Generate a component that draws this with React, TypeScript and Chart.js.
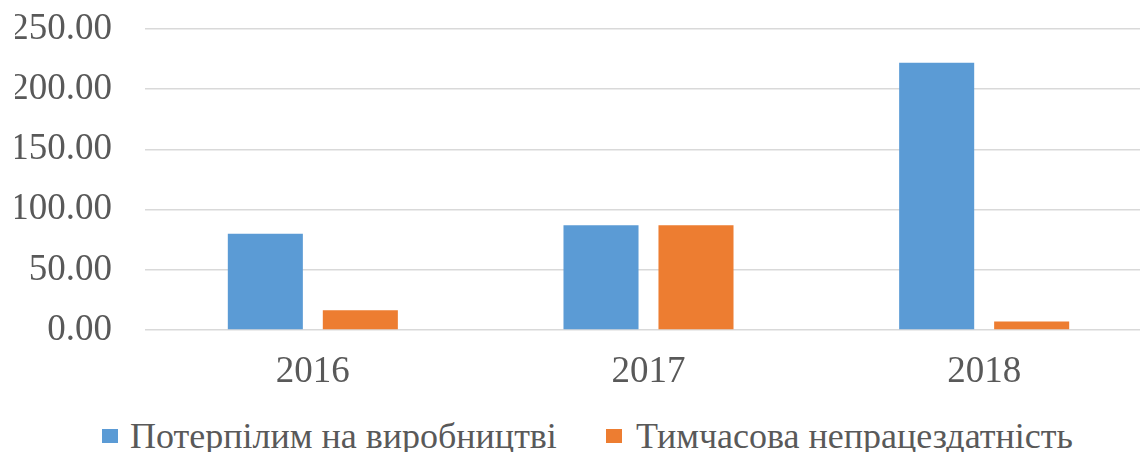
import React, { useEffect, useRef } from "react";
import { Chart, registerables } from "chart.js";

Chart.register(...registerables);

const categories = ["2016", "2017", "2018"];
const injuredAtWork = [80, 87, 222];
const temporaryDisability = [16.5, 87, 7];
const seriesNames = ["Потерпілим на виробництві", "Тимчасова непрацездатність"];
const seriesColors = ["#5B9BD5", "#ED7D31"];
const yTicks = [0, 50, 100, 150, 200, 250];

const FONT = "'Liberation Serif', 'Times New Roman', serif";
const TEXT = "#595959";

export default function App() {
  const ref = useRef<HTMLCanvasElement | null>(null);
  useEffect(() => {
    if (!ref.current) return;
    const chart = new Chart(ref.current, {
      type: "bar",
      data: {
        labels: categories,
        datasets: [
          {
            label: seriesNames[0],
            data: injuredAtWork,
            backgroundColor: seriesColors[0],
            barPercentage: 0.79,
            categoryPercentage: 0.566,
          },
          {
            label: seriesNames[1],
            data: temporaryDisability,
            backgroundColor: seriesColors[1],
            barPercentage: 0.79,
            categoryPercentage: 0.566,
          },
        ],
      },
      options: {
        responsive: false,
        animation: false,
        devicePixelRatio: 1,
        layout: { padding: { left: 15, right: 0, top: 29, bottom: 0 } },
        plugins: {
          tooltip: { enabled: false },
          legend: { display: false },
        },
        scales: {
          x: {
            afterFit: (scale: any) => {
              scale.height = 70;
            },
            grid: { display: false, drawTicks: false },
            border: { display: false },
            ticks: {
              font: { family: FONT, size: 37 },
              color: TEXT,
              padding: 20,
            },
          },
          y: {
            min: 0,
            max: 250,
            afterBuildTicks: (scale: any) => {
              scale.ticks = yTicks.map((v) => ({ value: v }));
            },
            afterFit: (scale: any) => {
              scale.width = 130;
              scale.paddingTop = 0;
              scale.paddingBottom = 0;
            },
            grid: { color: "#D9D9D9", lineWidth: 1.5, drawTicks: false },
            border: { display: false },
            ticks: {
              font: { family: FONT, size: 37 },
              color: TEXT,
              padding: 33,
              callback: (v: any) => Number(v).toFixed(2),
            },
          },
        },
      },
    });
    return () => chart.destroy();
  }, []);
  return (
    <div
      style={{
        position: "fixed",
        left: 0,
        top: 0,
        width: 1140,
        height: 452,
        overflow: "hidden",
        background: "#fff",
      }}
    >
      <canvas ref={ref} width={1152} height={400} style={{ display: "block" }} />
      <div
        style={{
          position: "absolute",
          left: 102,
          top: 414,
          height: 44,
          display: "flex",
          alignItems: "center",
          fontFamily: FONT,
          fontSize: 36,
          lineHeight: "44px",
          color: TEXT,
          whiteSpace: "nowrap",
        }}
      >
        {seriesNames.map((name, i) => (
          <div
            key={name}
            style={{
              display: "flex",
              alignItems: "center",
              marginLeft: i === 0 ? 0 : 49,
            }}
          >
            <span
              style={{
                display: "inline-block",
                width: 16,
                height: 14,
                background: seriesColors[i],
                marginRight: i === 0 ? 12 : 14,
              }}
            />
            <span>{name}</span>
          </div>
        ))}
      </div>
    </div>
  );
}
